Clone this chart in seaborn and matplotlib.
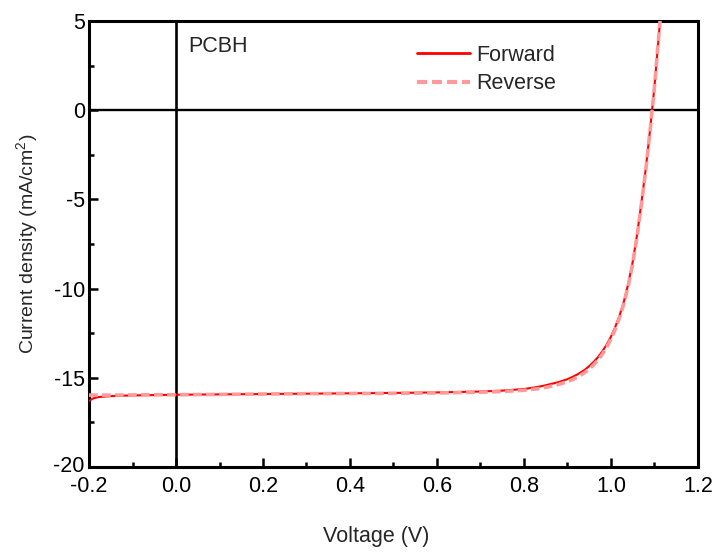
import matplotlib
matplotlib.use("Agg")
import matplotlib.pyplot as plt
from matplotlib.ticker import MultipleLocator
from matplotlib.transforms import ScaledTranslation
import seaborn as sns
import pandas as pd

# J-V sweep of the PCBH device
fwd_voltage = [-0.200, -0.195, -0.190, -0.180, -0.170, -0.150, -0.120, -0.080, 0.000,
               0.100, 0.200, 0.300, 0.400, 0.500, 0.600, 0.700, 0.750, 0.800, 0.830,
               0.850, 0.870, 0.880, 0.900, 0.910, 0.920, 0.930, 0.940, 0.950, 0.960,
               0.970, 0.980, 0.990, 1.000, 1.010, 1.020, 1.030, 1.040, 1.050, 1.060,
               1.070, 1.080, 1.090, 1.100, 1.113]
fwd_current = [-16.30, -16.22, -16.15, -16.09, -16.06, -16.03, -16.00, -15.98, -15.95,
               -15.93, -15.91, -15.89, -15.87, -15.85, -15.82, -15.77, -15.72, -15.63, -15.52,
               -15.42, -15.30, -15.24, -15.08, -14.97, -14.85, -14.71, -14.55, -14.35, -14.12,
               -13.85, -13.53, -13.15, -12.70, -12.15, -11.50, -10.71, -9.72, -8.51, -7.00,
               -5.21, -3.31, -1.11, 1.29, 5.00]

rev_voltage = [-0.200, -0.150, -0.100, 0.000, 0.100, 0.200, 0.300, 0.400, 0.500,
               0.600, 0.700, 0.750, 0.800, 0.830, 0.850, 0.870, 0.880, 0.900, 0.910,
               0.920, 0.930, 0.940, 0.950, 0.960, 0.970, 0.980, 0.990, 1.000, 1.010,
               1.020, 1.030, 1.040, 1.050, 1.060, 1.070, 1.080, 1.090, 1.100, 1.113]
rev_current = [-15.97, -15.97, -15.96, -15.95, -15.93, -15.91, -15.89, -15.88, -15.87,
               -15.85, -15.81, -15.77, -15.70, -15.62, -15.54, -15.43, -15.37, -15.22, -15.12,
               -15.00, -14.86, -14.70, -14.51, -14.28, -14.01, -13.69, -13.30, -12.84, -12.28,
               -11.62, -10.83, -9.83, -8.62, -7.10, -5.30, -3.38, -1.16, 1.26, 5.00]

x_ticks = [-0.2, 0.0, 0.2, 0.4, 0.6, 0.8, 1.0, 1.2]
y_ticks = [-20, -15, -10, -5, 0, 5]

df = pd.concat([
    pd.DataFrame({"Voltage": fwd_voltage, "Current": fwd_current, "Sweep": "Forward"}),
    pd.DataFrame({"Voltage": rev_voltage, "Current": rev_current, "Sweep": "Reverse"}),
], ignore_index=True)

sns.set_style("ticks")
plt.rcParams["font.family"] = ["Liberation Sans", "DejaVu Sans"]
plt.rcParams["mathtext.fontset"] = "custom"
plt.rcParams["mathtext.rm"] = "Liberation Sans"

FS = 15.5

fig = plt.figure(figsize=(7.18, 5.52), dpi=100)
ax = fig.add_axes([0.124, 0.154, 0.848, 0.808])

# zero reference lines
ax.axhline(0, color="black", lw=1.7, zorder=1)
ax.axvline(0, color="black", lw=1.9, zorder=1)

sns.lineplot(data=df[df.Sweep == "Forward"], x="Voltage", y="Current", ax=ax,
             color="#FF0000", lw=1.5, label="Forward", sort=False, zorder=3)
sns.lineplot(data=df[df.Sweep == "Reverse"], x="Voltage", y="Current", ax=ax,
             color="#FF9A9A", lw=2.6, label="Reverse", sort=False, zorder=4,
             dashes=False, linestyle=(0, (2.4, 1.2)))

ax.set_xlim(-0.2, 1.2)
ax.set_ylim(-20, 5)
ax.set_xticks(x_ticks)
ax.set_xticklabels([f"{t:.1f}" for t in x_ticks])
ax.set_yticks(y_ticks)
ax.set_yticklabels([str(t) for t in y_ticks])
ax.xaxis.set_minor_locator(MultipleLocator(0.1))
ax.yaxis.set_minor_locator(MultipleLocator(2.5))
ax.tick_params(which="both", direction="in", top=False, right=False,
               width=1.8, labelsize=FS, colors="black")
ax.tick_params(axis="x", pad=6.5)
ax.tick_params(axis="y", pad=3)
ax.tick_params(which="major", length=6.5)
ax.tick_params(which="minor", length=3.5)
for s in ax.spines.values():
    s.set_linewidth(2.2)
    s.set_color("black")

# nudge the lowest y label up a touch so it clears the first x label
low = ax.get_yticklabels()[0]
low.set_transform(low.get_transform() + ScaledTranslation(0, 2 / 72, fig.dpi_scale_trans))

ax.set_xlabel("Voltage (V)", fontsize=FS, labelpad=21)
ax.xaxis.label.set_x(0.471)
ax.set_ylabel("Current density (mA/cm$^2$)", fontsize=14, labelpad=9)

ax.text(0.028, 3.55, "PCBH", fontsize=FS, ha="left", va="center")

leg = ax.legend(loc="upper left", bbox_to_anchor=(0.538, 0.947), frameon=False,
                fontsize=FS, handlelength=2.5, handletextpad=0.25,
                labelspacing=0.35, borderpad=0, borderaxespad=0)
for line in leg.get_lines():
    line.set_linewidth(2.0 if line.get_label() == "Forward" else 3.0)

fig.savefig("out.png", dpi=100)
